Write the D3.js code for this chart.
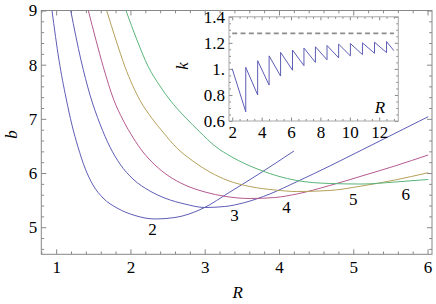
<!DOCTYPE html>
<html>
<head>
  <meta charset="utf-8">
  <script src="https://d3js.org/d3.v7.min.js"></script>
  <style>
    body { margin: 0; background: #fff; }
    svg text { font-family: "Liberation Serif", "DejaVu Serif", "Times New Roman", serif; font-size: 17px; fill: #000; }
    .tick line { stroke: #888; }
  </style>
</head>
<body>
<div id="chart"></div>
<script>
  // main plot: one curve per n, R values and b values
  const r2 = [0.944, 1.038, 1.133, 1.213, 1.294, 1.388, 1.496, 1.631, 1.819, 2.061, 2.331, 2.60, 2.977, 3.34, 3.744, 4.202];
  const b2 = [9.0, 8.086, 7.385, 6.887, 6.481, 6.093, 5.779, 5.539, 5.355, 5.216, 5.152, 5.179, 5.349, 5.65, 5.995, 6.407];
  const r3 = [1.196, 1.334, 1.456, 1.59, 1.725, 1.859, 2.034, 2.263, 2.478, 2.733, 3.002, 3.271, 3.54, 3.876, 4.24, 4.684, 5.115, 6.009];
  const b3 = [9.0, 8.086, 7.44, 6.905, 6.48, 6.167, 5.89, 5.668, 5.53, 5.428, 5.364, 5.382, 5.456, 5.613, 5.84, 6.13, 6.425, 7.04];
  const r4 = [1.433, 1.536, 1.634, 1.778, 1.9, 2.039, 2.169, 2.33, 2.505, 2.734, 3.003, 3.285, 3.608, 3.944, 4.24, 4.684, 5.115, 5.559, 6.009];
  const b4 = [9.0, 8.454, 7.963, 7.343, 6.979, 6.647, 6.388, 6.149, 5.954, 5.779, 5.65, 5.567, 5.53, 5.548, 5.613, 5.77, 5.945, 6.13, 6.333];
  const r5 = [1.68, 1.805, 1.926, 2.128, 2.289, 2.437, 2.626, 2.841, 3.07, 3.312, 3.608, 3.944, 4.24, 4.684, 5.115, 5.559, 6.009];
  const b5 = [9.0, 8.455, 7.963, 7.343, 7.01, 6.757, 6.461, 6.221, 6.018, 5.862, 5.751, 5.687, 5.659, 5.678, 5.761, 5.871, 6.006];
  const r6 = [1.94, 2.088, 2.24, 2.398, 2.532, 2.734, 2.935, 3.137, 3.366, 3.743, 4.24, 4.684, 5.115, 5.559, 6.009];
  const b6 = [9.0, 8.455, 7.963, 7.606, 7.348, 7.034, 6.757, 6.499, 6.296, 6.056, 5.862, 5.807, 5.797, 5.834, 5.881];

  const curveNames = ["2", "3", "4", "5", "6"];
  const labelR = [2.297, 3.40, 4.10, 5.0, 5.706];
  const labelB = [4.957, 5.22, 5.37, 5.52, 5.61];

  const xTicks = [1, 2, 3, 4, 5, 6];
  const yTicks = [5, 6, 7, 8, 9];

  // inset: sawtooth k(R)
  const startR = 2, startK = 1.0;
  const jumpR = [2.92, 3.73, 4.51, 5.29, 6.1, 6.88, 7.66, 8.45, 9.24, 10.04, 10.86, 11.68, 12.5];
  const troughK = [0.671, 0.80, 0.876, 0.945, 0.99, 1.025, 1.05, 1.07, 1.085, 1.10, 1.11, 1.12, 1.125];
  const peakK = [1.012, 1.063, 1.10, 1.127, 1.145, 1.16, 1.17, 1.18, 1.19, 1.195, 1.20, 1.205, 1.21];
  const endR = 13.0, endK = 1.14;
  const kLimit = 1.273;
  const insetXTicks = [2, 4, 6, 8, 10, 12];
  const insetYTicks = [0.6, 0.8, 1.0, 1.2, 1.4];

  const colors = ["#5d5db6", "#5d5db6", "#b45a8e", "#b4a05a", "#5ab47a"];
  const serif = "'Liberation Serif', 'DejaVu Serif', 'Times New Roman', serif";

  const W = 436, H = 304;
  const svg = d3.select("#chart").append("svg").attr("width", W).attr("height", H)
    .attr("font-family", serif);

  const x = d3.scaleLinear().domain([0.8, 6.06]).range([41.3, 432]);
  const y = d3.scaleLinear().domain([4.5, 9]).range([254.3, 10.5]);

  const [x0, x1] = x.range(), [y0, y1] = [y.range()[1], y.range()[0]];

  svg.append("clipPath").attr("id", "clip")
    .append("rect").attr("x", x0).attr("y", y0).attr("width", x1 - x0).attr("height", y1 - y0);

  // minor tick helper
  const minors = (lo, hi, step, majors) => d3.range(Math.round(lo / step), Math.round(hi / step) + 1)
    .map(i => +(i * step).toFixed(3))
    .filter(v => v >= lo - 1e-9 && v <= hi + 1e-9 && !majors.some(m => Math.abs(m - v) < 1e-6));

  const xMinor = minors(0.8, 6.0, 0.2, xTicks);
  const yMinor = minors(4.6, 8.8, 0.2, yTicks);

  function frameAxes(g, xs, ys, xMaj, xMin, yMaj, yMin, big, small, fmtX, fmtY, padX, padY) {
    const [gx0, gx1] = xs.range();
    const [gy1, gy0] = ys.range();
    const add = (t, ax) => g.append("g").attr("transform", t).call(ax)
      .call(a => a.select(".domain").remove())
      .attr("font-family", serif).attr("font-size", 17);
    add(`translate(0,${gy1})`, d3.axisBottom(xs).tickValues(xMaj).tickSize(-big).tickPadding(padX).tickFormat(fmtX));
    add(`translate(0,${gy1})`, d3.axisBottom(xs).tickValues(xMin).tickSize(-small).tickFormat(""));
    add(`translate(0,${gy0})`, d3.axisTop(xs).tickValues(xMaj).tickSize(-big).tickFormat(""));
    add(`translate(0,${gy0})`, d3.axisTop(xs).tickValues(xMin).tickSize(-small).tickFormat(""));
    add(`translate(${gx0},0)`, d3.axisLeft(ys).tickValues(yMaj).tickSize(-big).tickPadding(padY).tickFormat(fmtY));
    add(`translate(${gx0},0)`, d3.axisLeft(ys).tickValues(yMin).tickSize(-small).tickFormat(""));
    add(`translate(${gx1},0)`, d3.axisRight(ys).tickValues(yMaj).tickSize(-big).tickFormat(""));
    add(`translate(${gx1},0)`, d3.axisRight(ys).tickValues(yMin).tickSize(-small).tickFormat(""));
  }

  const main = svg.append("g");
  frameAxes(main, x, y, xTicks, xMinor, yTicks, yMinor, 5, 2.8, d3.format("d"), d3.format("d"), 7, 4);
  main.append("rect").attr("x", x0).attr("y", y0).attr("width", x1 - x0).attr("height", y1 - y0)
    .attr("fill", "none").attr("stroke", "#888").attr("stroke-width", 1);

  const line = d3.line().x(d => x(d[0])).y(d => y(d[1])).curve(d3.curveMonotoneX);
  const curves = [[r2, b2], [r3, b3], [r4, b4], [r5, b5], [r6, b6]];
  main.append("g").attr("clip-path", "url(#clip)")
    .selectAll("path").data(curves).join("path")
    .attr("d", c => line(d3.zip(c[0], c[1])))
    .attr("fill", "none")
    .attr("stroke", (c, i) => colors[i])
    .attr("stroke-width", 1);

  main.selectAll(".clabel").data(curveNames).join("text")
    .attr("class", "clabel")
    .attr("x", (d, i) => x(labelR[i]))
    .attr("y", (d, i) => y(labelB[i]))
    .attr("dy", "0.35em")
    .attr("text-anchor", "middle")
    .text(d => d);

  svg.append("text")
    .attr("x", (x0 + x1) / 2 + 1)
    .attr("y", 298)
    .attr("text-anchor", "middle")
    .style("font-style", "italic")
    .text("R");

  svg.append("text")
    .attr("transform", `translate(17,${(y0 + y1) / 2 + 2}) rotate(-90)`)
    .attr("text-anchor", "middle")
    .style("font-style", "italic")
    .text("b");

  // inset
  const xi = d3.scaleLinear().domain([1.78, 13.3]).range([229, 398.3]);
  const yi = d3.scaleLinear().domain([0.6, 1.4]).range([121, 16.8]);
  const [ix0, ix1] = xi.range(), [iy0, iy1] = [yi.range()[1], yi.range()[0]];

  const inset = svg.append("g");
  inset.append("rect").attr("x", ix0).attr("y", iy0).attr("width", ix1 - ix0).attr("height", iy1 - iy0)
    .attr("fill", "#fff");

  const ixMinor = minors(2, 13, 0.5, insetXTicks);
  const iyMinor = minors(0.6, 1.4, 0.05, insetYTicks);
  const kFmt = d => d === 1 ? "1." : d3.format(".1f")(d);
  frameAxes(inset, xi, yi, insetXTicks, ixMinor, insetYTicks, iyMinor, 3.5, 2, d3.format("d"), kFmt, 5, 4);
  inset.append("rect").attr("x", ix0).attr("y", iy0).attr("width", ix1 - ix0).attr("height", iy1 - iy0)
    .attr("fill", "none").attr("stroke", "#a8a8a8").attr("stroke-width", 1);

  inset.append("line")
    .attr("x1", xi(2)).attr("x2", xi(13))
    .attr("y1", yi(kLimit)).attr("y2", yi(kLimit))
    .attr("stroke", "#8c8c8c").attr("stroke-width", 1.6)
    .attr("stroke-dasharray", "5,3.3");

  const saw = [[startR, startK]];
  jumpR.forEach((r, i) => { saw.push([r, troughK[i]]); saw.push([r, peakK[i]]); });
  saw.push([endR, endK]);

  inset.append("path")
    .attr("d", d3.line().x(d => xi(d[0])).y(d => yi(d[1]))(saw))
    .attr("fill", "none")
    .attr("stroke", colors[0])
    .attr("stroke-width", 1);

  inset.append("text")
    .attr("x", 380).attr("y", 113)
    .attr("text-anchor", "middle")
    .style("font-style", "italic")
    .text("R");

  inset.append("text")
    .attr("transform", `translate(188,${(iy0 + iy1) / 2 - 3}) rotate(-90)`)
    .attr("text-anchor", "middle")
    .style("font-style", "italic")
    .text("k");
</script>
</body>
</html>
